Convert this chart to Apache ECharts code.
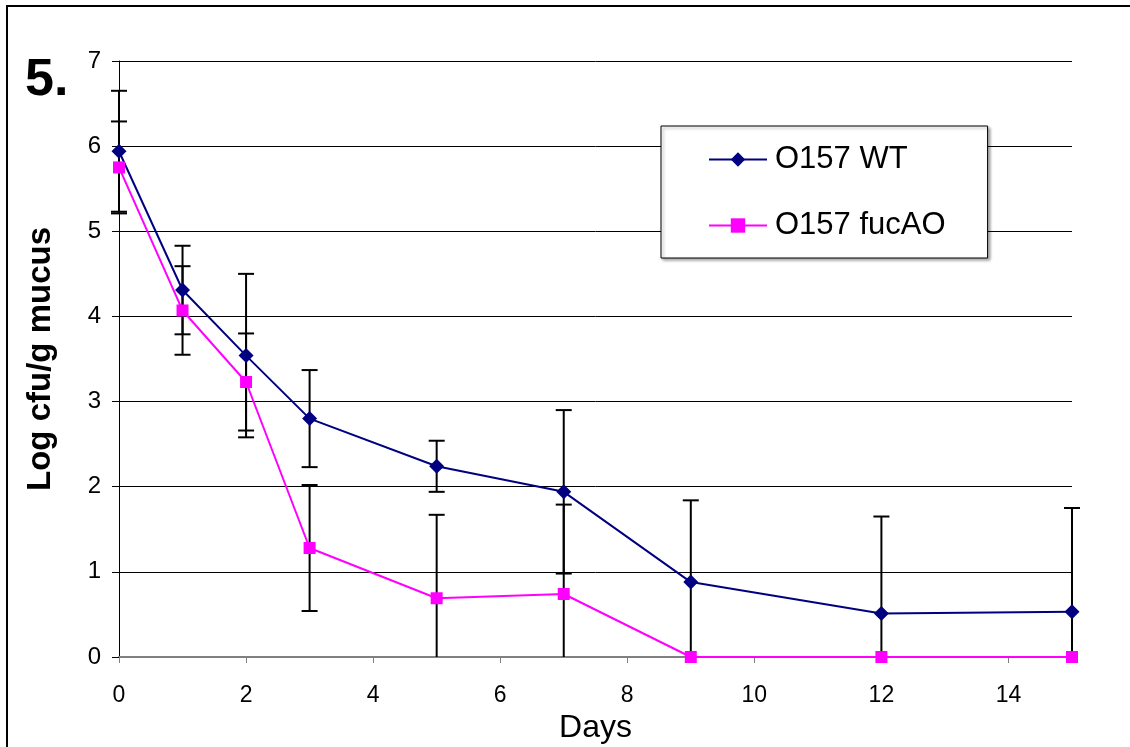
<!DOCTYPE html>
<html>
<head>
<meta charset="utf-8">
<script src="https://cdn.jsdelivr.net/npm/echarts@6/dist/echarts.min.js"></script>
<style>
    html, body { margin: 0; padding: 0; background: #fff; }
    #frame { position: absolute; left: 6px; top: 5px; width: 1200px; height: 800px;
             border-top: 2px solid #000; border-left: 2px solid #000; }
    #chart { position: absolute; left: 0; top: 0; width: 1130px; height: 747px; }
</style>
</head>
<body>
<div id="frame"></div>
<div id="chart"></div>
<script>
// days sampled
const days = [0, 1, 2, 3, 5, 7, 9, 12, 15]
// O157 WT, log cfu/g mucus, and its error
const wt = [5.94, 4.31, 3.54, 2.80, 2.24, 1.94, 0.88, 0.51, 0.53]
const wtErr = [0.71, 0.52, 0.96, 0.57, 0.30, 0.96, 0.96, 1.14, 1.22]
// O157 fucAO
const fuc = [5.75, 4.07, 3.23, 1.28, 0.69, 0.74, 0, 0, 0]
const fucErr = [0.54, 0.52, 0.57, 0.74, 0.98, 1.05, 0, 0, 0]
const seriesNames = ['O157 WT', 'O157 fucAO']

const font = '"Liberation Sans", Arial, sans-serif'

const pairs = (vals) => days.map((d, i) => [d, vals[i]])
const errRows = (vals, errs) => days.map((d, i) => [d, vals[i] - errs[i], vals[i] + errs[i]])
    .filter((r, i) => errs[i] > 0)

const renderErr = (params, api) => {
    const x = api.value(0)
    const lo = api.value(1)
    const hi = api.value(2)
    const top = api.coord([x, hi])
    const bot = api.coord([x, Math.max(lo, 0)])
    const half = 8
    const style = { stroke: '#000', lineWidth: 2 }
    const kids = [
        { type: 'line', shape: { x1: top[0], y1: top[1], x2: bot[0], y2: bot[1] }, style },
        { type: 'line', shape: { x1: top[0] - half, y1: top[1], x2: top[0] + half, y2: top[1] }, style }
    ]
    if (lo > 0) {
        kids.push({ type: 'line', shape: { x1: bot[0] - half, y1: bot[1], x2: bot[0] + half, y2: bot[1] }, style })
    }
    return { type: 'group', children: kids }
}

const myChart = echarts.init(document.getElementById('chart'))
const option = {
    animation: false,
    textStyle: { fontFamily: font, color: '#000' },
    title: {
        text: '5.',
        left: 25,
        top: 55,
        padding: 0,
        textStyle: { fontFamily: font, fontSize: 52, fontWeight: 'bold', color: '#000' }
    },
    grid: { left: 119, right: 58, top: 61, bottom: 90, outerBoundsMode: 'none' },
    legend: {
        orient: 'vertical',
        left: 661,
        top: 126,
        padding: [15, 42, 14, 47],
        itemWidth: 58,
        itemHeight: 18,
        itemGap: 29,
        backgroundColor: '#fff',
        borderColor: '#000',
        borderWidth: 1,
        borderRadius: 0,
        shadowColor: 'rgba(0,0,0,0.35)',
        shadowBlur: 3,
        shadowOffsetX: 2,
        shadowOffsetY: 2,
        data: seriesNames,
        textStyle: { fontFamily: font, fontSize: 31, color: '#000', lineHeight: 37, padding: [0, 0, 0, 3] }
    },
    xAxis: {
        type: 'value',
        min: 0,
        max: 15,
        interval: 2,
        name: 'Days',
        nameLocation: 'middle',
        nameGap: 48,
        nameTextStyle: { fontFamily: font, fontSize: 32, color: '#000' },
        axisLine: { lineStyle: { color: '#808080', width: 2 } },
        axisTick: { length: 6, lineStyle: { color: '#808080' } },
        axisLabel: { fontFamily: font, fontSize: 23, color: '#000', margin: 27, showMaxLabel: false },
        splitLine: { show: false }
    },
    yAxis: {
        type: 'value',
        min: 0,
        max: 7,
        interval: 1,
        name: 'Log cfu/g mucus',
        nameLocation: 'middle',
        nameGap: 62,
        nameTextStyle: { fontFamily: font, fontSize: 33, fontWeight: 'bold', color: '#000' },
        axisLine: { show: true, lineStyle: { color: '#000', width: 1 } },
        axisTick: { show: true, length: 7, lineStyle: { color: '#000' } },
        axisLabel: { fontFamily: font, fontSize: 24, color: '#000', margin: 18 },
        splitLine: { lineStyle: { color: '#000', width: 1 } }
    },
    series: [
        {
            type: 'custom',
            name: 'errWT',
            renderItem: renderErr,
            data: errRows(wt, wtErr),
            encode: { x: 0, y: [1, 2] },
            z: 1
        },
        {
            type: 'custom',
            name: 'errFuc',
            renderItem: renderErr,
            data: errRows(fuc, fucErr),
            encode: { x: 0, y: [1, 2] },
            z: 1
        },
        {
            name: seriesNames[0],
            type: 'line',
            data: pairs(wt),
            symbol: 'diamond',
            symbolSize: 15,
            color: '#000080',
            lineStyle: { color: '#000080', width: 2 },
            itemStyle: { color: '#000080' },
            z: 3
        },
        {
            name: seriesNames[1],
            type: 'line',
            data: pairs(fuc),
            symbol: 'rect',
            symbolSize: 12,
            color: '#ff00ff',
            lineStyle: { color: '#ff00ff', width: 2 },
            itemStyle: { color: '#ff00ff' },
            z: 3
        }
    ]
}
myChart.setOption(option)
</script>
</body>
</html>
